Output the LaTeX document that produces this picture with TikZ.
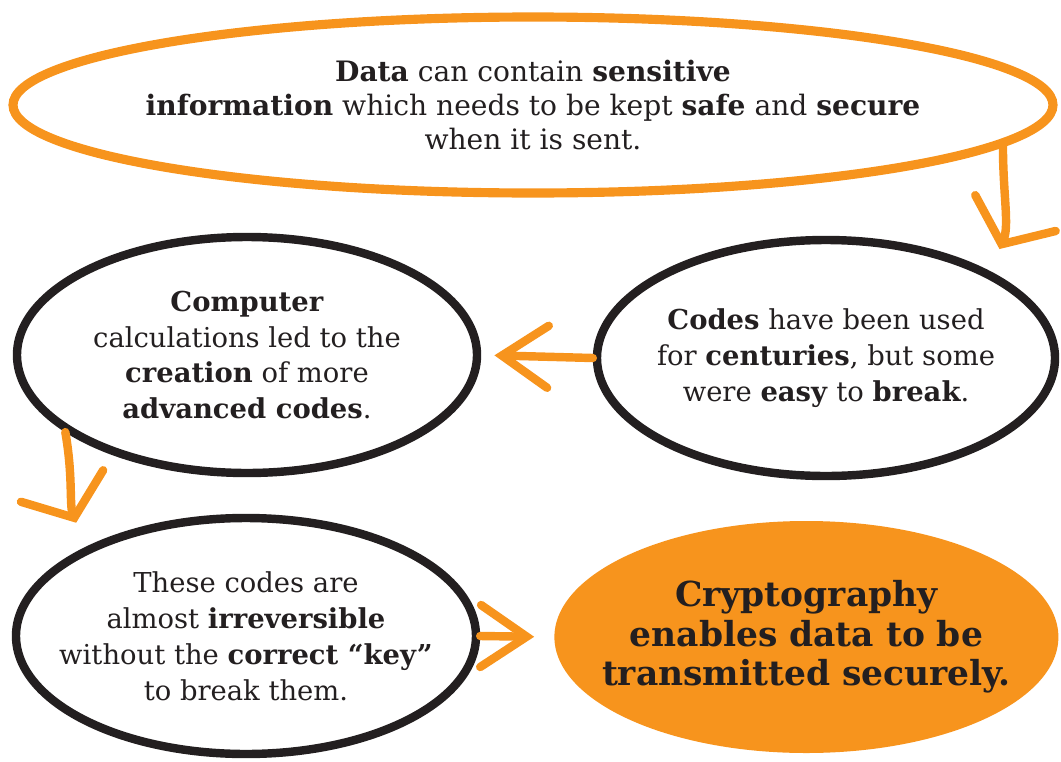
\documentclass[tikz,border=0pt]{standalone}
\usepackage{fontspec}
\setmainfont{DejaVu Serif}
\usepackage{tikz}
\usetikzlibrary{arrows.meta,shapes.geometric,positioning}
\definecolor{bubbleorange}{RGB}{247,148,29}
\definecolor{inkcolor}{RGB}{35,31,32}

\begin{document}
\begin{tikzpicture}[
    bubble/.style={ellipse, draw=inkcolor, line width=6pt, inner sep=-1.5cm, align=center, text=inkcolor, font=\fontsize{19.5}{25.5}\selectfont},
    arrow/.style={-{Straight Barb[length=1.15cm, width=1.55cm, line cap=round]}, line width=6pt, draw=bubbleorange, line cap=round},
    bentarrow/.style={arrow, -{Straight Barb[length=0.85cm, width=2.2cm, line cap=round]}}
]
    \useasboundingbox (0,0) rectangle (26.525,-19.05);

    % Opening statement
    \node[bubble, draw=bubbleorange, line width=6.5pt, minimum width=26cm, minimum height=4.4cm, font=\fontsize{20}{24}\selectfont] (top) at (13.325,-2.625)
        {\textbf{Data} can contain \textbf{sensitive}\\ \textbf{information} which needs to be kept \textbf{safe} and \textbf{secure}\\ when it is sent.};

    % Middle row
    \node[bubble, minimum width=11.45cm, minimum height=5.9cm] (right) at (20.65,-8.95)
        {\textbf{Codes} have been used\\ for \textbf{centuries}, but some\\ were \textbf{easy} to \textbf{break}.};
    \node[bubble, minimum width=11.5cm, minimum height=5.9cm] (left) at (6.175,-8.875)
        {\textbf{Computer}\\ calculations led to the\\ \textbf{creation} of more\\ \textbf{advanced codes}.};

    % Bottom row
    \node[bubble, minimum width=11.5cm, minimum height=5.9cm] (botleft) at (6.15,-15.9)
        {These codes are\\ almost \textbf{irreversible}\\ without the \textbf{correct “key”}\\ to break them.};
    \node[bubble, draw=none, fill=bubbleorange, minimum width=12.6cm, minimum height=5.8cm, font=\fontsize{24.5}{28}\selectfont\bfseries] (botright) at (20.16,-15.925)
        {Cryptography\\ enables data to be\\ transmitted securely.};

    \draw[bentarrow, shorten >=0.6cm] (top.-5) to[out=-90, in=66] (right.28);
    \draw[arrow, shorten >=0.33cm] (right.west) -- (left.east);
    \draw[bentarrow, shorten >=0.65cm] (left.203) to[out=-80, in=111] (botleft.151);
    \draw[arrow, shorten >=0.4cm] (botleft.east) -- (botright.west);
\end{tikzpicture}
\end{document}
